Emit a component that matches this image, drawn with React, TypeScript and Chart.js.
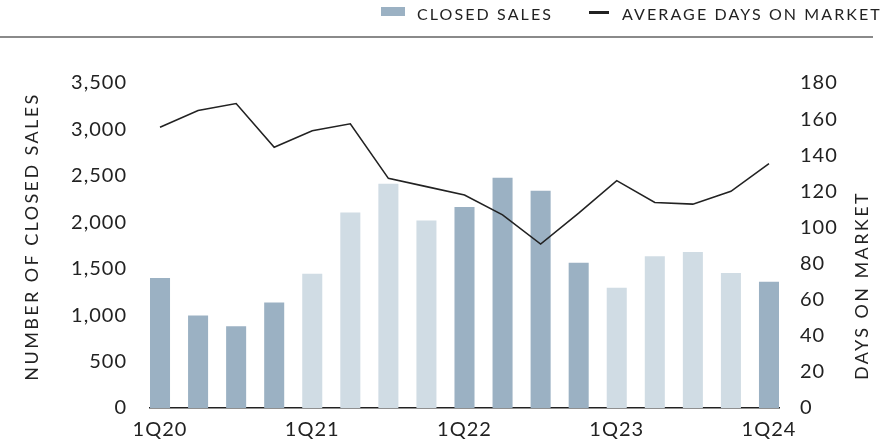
import React, { useEffect, useRef } from "react";
import { Chart, registerables } from "chart.js";

Chart.register(...registerables);

const quarters = [
  "1Q20", "2Q20", "3Q20", "4Q20",
  "1Q21", "2Q21", "3Q21", "4Q21",
  "1Q22", "2Q22", "3Q22", "4Q22",
  "1Q23", "2Q23", "3Q23", "4Q23",
  "1Q24",
];
const closedSales = [1400, 995, 880, 1135, 1445, 2105, 2415, 2020, 2165, 2480, 2340, 1565, 1295, 1635, 1680, 1455, 1360];
const avgDaysOnMarket = [155.5, 164.8, 168.6, 144.4, 153.6, 157.4, 127.2, 122.6, 118, 107, 90.8, 107.9, 125.9, 113.8, 112.9, 120, 135.3];
const salesTicks = [0, 500, 1000, 1500, 2000, 2500, 3000, 3500];
const domTicks = [0, 20, 40, 60, 80, 100, 120, 140, 160, 180];
const xTickIndices = [0, 4, 8, 12, 16];

const DARK = "#9bb1c3";
const LIGHT = "#d0dce4";
const TEXT = "#222222";
const FONT = "Lato";

const titlesPlugin = {
  id: "axisTitles",
  beforeDraw(chart: any) {
    chart.ctx.letterSpacing = "1px";
  },
  afterDraw(chart: any) {
    const { ctx, chartArea } = chart;
    const midY = (chartArea.top + chartArea.bottom) / 2;
    ctx.save();
    ctx.letterSpacing = "2.4px";
    ctx.font = `18px ${FONT}`;
    ctx.fillStyle = TEXT;
    ctx.textAlign = "center";
    ctx.textBaseline = "middle";
    ctx.save();
    ctx.translate(32, midY - 9);
    ctx.rotate(-Math.PI / 2);
    ctx.fillText("NUMBER OF CLOSED SALES", 0, 0);
    ctx.restore();
    ctx.save();
    ctx.translate(chart.width - 29, midY + 40);
    ctx.rotate(-Math.PI / 2);
    ctx.fillText("DAYS ON MARKET", 0, 0);
    ctx.restore();
    ctx.restore();
  },
};

export default function App() {
  const canvasRef = useRef<HTMLCanvasElement | null>(null);

  useEffect(() => {
    if (!canvasRef.current) return;
    const barColors = quarters.map((q) => (parseInt(q.slice(2), 10) % 2 === 0 ? DARK : LIGHT));
    const chart = new Chart(canvasRef.current, {
      type: "bar",
      data: {
        datasets: [
          {
            type: "line",
            label: "AVERAGE DAYS ON MARKET",
            data: avgDaysOnMarket.map((v, i) => ({ x: i, y: v })),
            yAxisID: "y2",
            borderColor: TEXT,
            borderWidth: 1.6,
            pointRadius: 0,
            tension: 0,
            order: 0,
          } as any,
          {
            type: "bar",
            label: "CLOSED SALES",
            data: closedSales.map((v, i) => ({ x: i, y: v })),
            yAxisID: "y",
            backgroundColor: barColors,
            categoryPercentage: 1,
            barPercentage: 20 / 38,
            order: 1,
          } as any,
        ],
      },
      options: {
        animation: false,
        responsive: false,
        maintainAspectRatio: false,
        layout: { padding: { top: 83, left: 0, right: 0, bottom: 0 } },
        plugins: {
          legend: { display: false },
          tooltip: { enabled: false },
        },
        scales: {
          x: {
            type: "linear",
            offset: false,
            min: -10 / 38,
            max: quarters.length - 1 + 10 / 38,
            grid: { display: false, drawTicks: false, offset: false },
            border: { display: true, color: TEXT, width: 1.5 },
            afterBuildTicks: (s: any) => {
              s.ticks = xTickIndices.map((v) => ({ value: v }));
            },
            afterFit: (s: any) => {
              s.height = 33;
            },
            ticks: {
              autoSkip: false,
              maxRotation: 0,
              padding: 10,
              color: TEXT,
              font: { family: FONT, size: 20 },
              callback: (v: any) => quarters[v as number] ?? "",
            },
          },
          y: {
            type: "linear",
            position: "left",
            min: 0,
            max: 3500,
            grid: { display: false, drawTicks: false },
            border: { display: false },
            afterBuildTicks: (s: any) => {
              s.ticks = salesTicks.map((v) => ({ value: v }));
            },
            afterFit: (s: any) => {
              s.width = 150;
            },
            ticks: {
              padding: 23,
              color: TEXT,
              font: { family: FONT, size: 20 },
              callback: (v: any) => Number(v).toLocaleString("en-US"),
            },
          },
          y2: {
            type: "linear",
            position: "right",
            min: 0,
            max: 180,
            grid: { display: false, drawTicks: false },
            border: { display: false },
            afterBuildTicks: (s: any) => {
              s.ticks = domTicks.map((v) => ({ value: v }));
            },
            afterFit: (s: any) => {
              s.width = 112;
            },
            ticks: {
              padding: 21,
              color: TEXT,
              font: { family: FONT, size: 20 },
            },
          },
        },
      },
      plugins: [titlesPlugin],
    });
    return () => chart.destroy();
  }, []);

  const legendText: React.CSSProperties = {
    position: "absolute",
    top: 4,
    fontFamily: FONT,
    fontSize: 16,
    letterSpacing: "2.1px",
    color: TEXT,
    lineHeight: "normal",
    whiteSpace: "nowrap",
  };

  return (
    <div style={{ position: "fixed", left: 0, top: 0, width: 891, height: 443, background: "#fff" }}>
      <canvas ref={canvasRef} width={891} height={443} style={{ position: "absolute", left: 0, top: 0, width: 891, height: 443 }} />
      <div style={{ position: "absolute", left: 381, top: 7, width: 24, height: 9, background: DARK }} />
      <div style={{ ...legendText, left: 417 }}>CLOSED SALES</div>
      <div style={{ position: "absolute", left: 589, top: 11, width: 20, height: 3, background: TEXT }} />
      <div style={{ ...legendText, left: 622 }}>AVERAGE DAYS ON MARKET</div>
      <div style={{ position: "absolute", left: 0, top: 36, width: 873, height: 2, background: "#8a8a8a" }} />
    </div>
  );
}
